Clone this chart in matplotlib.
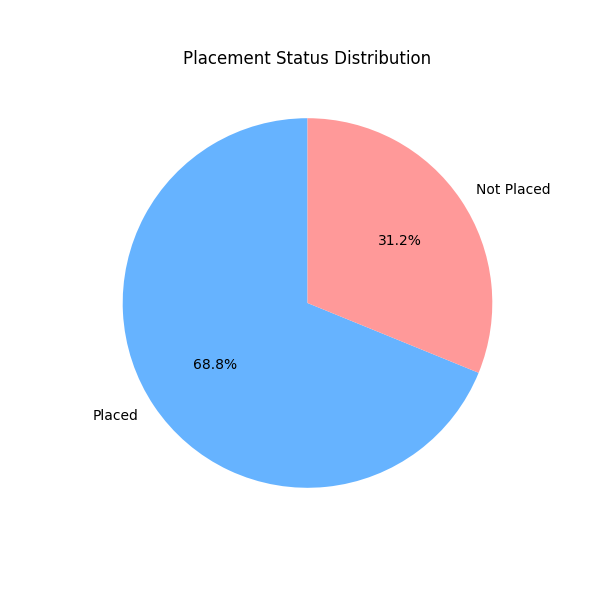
import matplotlib
matplotlib.use("Agg")
import matplotlib.pyplot as plt

labels = ["Placed", "Not Placed"]
counts = [148, 67]
colors = ["#66b3ff", "#ff9999"]

fig, ax = plt.subplots(figsize=(6, 6), dpi=100)
ax.pie(counts, labels=labels, colors=colors, autopct="%1.1f%%", startangle=90)
ax.set_title("Placement Status Distribution")
fig.savefig("out.png")
